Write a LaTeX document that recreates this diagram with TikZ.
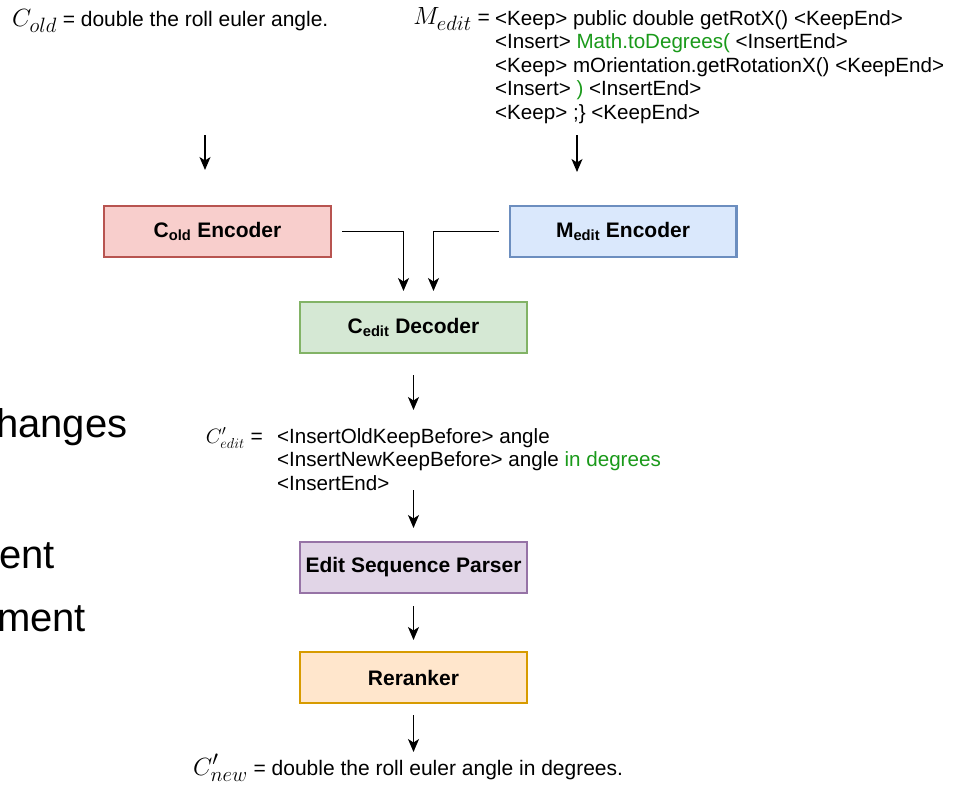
\documentclass[tikz,border=0pt]{standalone}
\usepackage{fontspec}
\setmainfont{Liberation Sans}
\usepackage{xcolor}
\definecolor{oldfill}{HTML}{F8CECC}
\definecolor{oldline}{HTML}{B85450}
\definecolor{editfill}{HTML}{DAE8FC}
\definecolor{editline}{HTML}{6C8EBF}
\definecolor{decfill}{HTML}{D5E8D4}
\definecolor{decline}{HTML}{82B366}
\definecolor{parsefill}{HTML}{E1D5E7}
\definecolor{parseline}{HTML}{9673A6}
\definecolor{rankfill}{HTML}{FFE6CC}
\definecolor{rankline}{HTML}{D79B00}
\definecolor{insgreen}{HTML}{1A9A1A}
\usetikzlibrary{arrows.meta, positioning}

\newcommand{\symtext}[2][28]{{\fontsize{#1}{#1}\selectfont$#2$}}

\begin{document}
\begin{tikzpicture}[x=1pt, y=1pt,
  block/.style={draw, line width=2.2pt, minimum width=226.8pt, minimum height=50.8pt,
                inner sep=0pt, font=\fontsize{21}{25}\selectfont\bfseries},
  code/.style={align=left, anchor=base west, inner sep=0pt,
               font=\fontsize{20.6}{23.5}\selectfont},
  label/.style={anchor=base west, inner sep=0pt, font=\fontsize{21}{25}\selectfont},
  slide/.style={anchor=base west, inner sep=0pt, font=\fontsize{40}{48}\selectfont},
  arr/.style={-{Stealth[length=13pt,width=11pt,inset=3.5pt]}, line width=1.4pt}
]
\useasboundingbox[fill=white] (0,0) rectangle (955,-784);

% left-over slide text
\node[slide] (changes) at (-4,-437) {hanges};
\node[slide] (ent) at (-1,-568) {ent};
\node[slide] (ment) at (-3,-631) {ment};

% blocks
\node[block, fill=oldfill, draw=oldline] (cold) at (217.5,-231.5)
  {C\textsubscript{old} Encoder};
\node[block, fill=editfill, draw=editline] (medit) at (623,-231.5)
  {M\textsubscript{edit} Encoder};
\node[block, fill=decfill, draw=decline] (decoder) at (413.5,-327.5)
  {C\textsubscript{edit} Decoder};
\node[block, fill=parsefill, draw=parseline, below=187pt of decoder] (parser)
  {Edit Sequence Parser};
\node[block, fill=rankfill, draw=rankline, below=57pt of parser] (reranker)
  {Reranker};

% texts (multi-line nodes sit on their last baseline)
\node[label] (coldtxt) at (12,-27)
  {\symtext{C_{old}} = double the roll euler angle.};

\node[label, anchor=base east] (meditsym) at (490,-25) {\symtext{M_{edit}} =};
\node[code] (meditcode) at (495,-119)
  {<Keep> public double getRotX() <KeepEnd>\\
   <Insert> \textcolor{insgreen}{Math.toDegrees(} <InsertEnd>\\
   <Keep> mOrientation.getRotationX() <KeepEnd>\\
   <Insert> \textcolor{insgreen}{)} <InsertEnd>\\
   <Keep> ;\} <KeepEnd>};

\node[label, anchor=base east] (ceditsym) at (263,-443) {\symtext[21]{C'_{edit}} =};
\node[code] (ceditcode) at (277,-490)
  {<InsertOldKeepBefore> angle\\
   <InsertNewKeepBefore> angle \textcolor{insgreen}{in degrees}\\
   <InsertEnd>};

\node[label] (cnewtxt) at (193,-775)
  {\symtext{C'_{new}} = double the roll euler angle in degrees.};

% arrows
\draw[arr] ([xshift=-12.5pt,yshift=70pt]cold.north) -- ++(0,-35);
\draw[arr] ([xshift=-46pt,yshift=70pt]medit.north) -- ++(0,-37);
\draw[arr, shorten <=10pt, shorten >=10pt] (cold.east) -| ([xshift=-10pt]decoder.north);
\draw[arr, shorten <=10pt, shorten >=10pt] (medit.west) -| ([xshift=20pt]decoder.north);
\draw[arr] ([yshift=-21pt]decoder.south) -- ++(0,-35);
\draw[arr] ([yshift=51pt]parser.north) -- ([yshift=13pt]parser.north);
\draw[arr] ([yshift=-12pt]parser.south) -- ([yshift=11pt]reranker.north);
\draw[arr] ([yshift=-11pt]reranker.south) -- ++(0,-37);
\end{tikzpicture}
\end{document}
